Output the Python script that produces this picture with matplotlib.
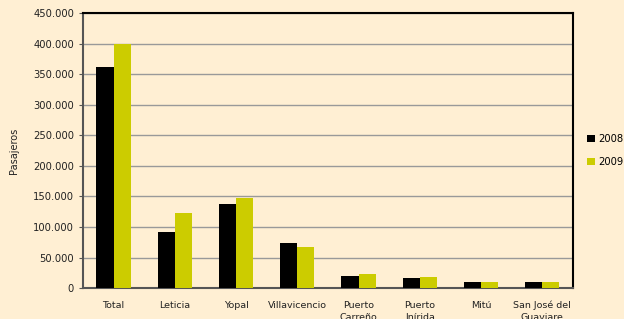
import numpy as np
import matplotlib
matplotlib.use('Agg')
from matplotlib import pyplot as plt
from matplotlib.ticker import FuncFormatter

categories = ['Total', 'Leticia', 'Yopal', 'Villavicencio', 'Puerto\nCarreño',
              'Puerto\nInírida', 'Mitú', 'San José del\nGuaviare']
v2008 = [361000, 92000, 138000, 73000, 20000, 16000, 9800, 9800]
v2009 = [400000, 123000, 148000, 67000, 23000, 17500, 9800, 9500]

bg = '#FFEFD3'
fig = plt.figure(figsize=(6.24, 3.19), dpi=100, facecolor=bg)
ax = fig.add_axes([0.133, 0.097, 0.785, 0.862], facecolor=bg)

x = np.arange(len(categories))
w = 0.28
ax.bar(x - w/2, v2008, w, color='black', label='2008', zorder=3)
ax.bar(x + w/2, v2009, w, color='#CCCC00', label='2009', zorder=3)

ax.set_xlim(-0.5, len(categories) - 0.5)
ax.set_ylim(0, 450000)
ax.set_yticks(np.arange(0, 450001, 50000))
ax.yaxis.set_major_formatter(FuncFormatter(lambda v, p: '{:,.0f}'.format(v).replace(',', '.')))
ax.grid(axis='y', color='#999999', linewidth=1, zorder=0)
ax.set_xticks(x)
ax.set_xticklabels(categories, fontsize=6.8, color='#222222', linespacing=1.45)
ax.tick_params(axis='y', labelsize=7.2, colors='#222222', length=3, color='#555555')
ax.tick_params(axis='x', length=0, pad=9)

for s in ['top', 'right']:
    ax.spines[s].set_color('black')
    ax.spines[s].set_linewidth(1.5)
for s in ['left', 'bottom']:
    ax.spines[s].set_color('#555555')
    ax.spines[s].set_linewidth(1.5)

ax.set_ylabel('Pasajeros', fontsize=7, color='#222222', labelpad=10)

leg = ax.legend(loc='center left', bbox_to_anchor=(1.01, 0.5), frameon=False,
                fontsize=7.2, handlelength=0.8, handleheight=0.8, handletextpad=0.4,
                labelspacing=1.3)

plt.savefig('out.png', dpi=100, facecolor=bg)
